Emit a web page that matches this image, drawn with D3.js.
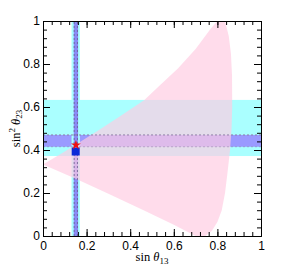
<!DOCTYPE html>
<html><head><meta charset="utf-8">
<script src="https://cdn.jsdelivr.net/npm/d3@7/dist/d3.min.js"></script>
<style>
html,body{margin:0;padding:0;background:#fff;}
svg{display:block;}
.tick text{font-family:"Liberation Sans",Arial,sans-serif;font-size:12px;fill:#000;}
.ttl{font-family:"Liberation Serif","Times New Roman",serif;font-size:12.5px;fill:#000;}
</style></head>
<body>
<script>
// ---- data ----
const majorTicks = [0, 0.2, 0.4, 0.6, 0.8, 1];
const minorTicks = d3.range(0, 1.0001, 0.04);
const tickLabels = ["0", "0.2", "0.4", "0.6", "0.8", "1"];
// allowed region (sin θ13, sin²θ23), boundary traced clockwise
const regionUpper = [[0,0.333],[0.1,0.393],[0.246,0.486],[0.35,0.555],[0.465,0.633],[0.54,0.705],[0.62,0.78],[0.70,0.87],[0.77,0.965],[0.80,1.0],[0.815,1.02]];
const regionRight = [[0.835,1.0],[0.852,0.93],[0.862,0.85],[0.867,0.75],[0.868,0.6],[0.865,0.5],[0.858,0.4],[0.847,0.3],[0.835,0.2],[0.82,0.12],[0.80,0.065],[0.775,0.025],[0.745,0.0]];
const regionLower = [[0.70,0.0],[0.6,0.052],[0.459,0.121],[0.3,0.197],[0.153,0.265],[0,0.333]];
const horizBands = [{lo:0.372, hi:0.633, c:"#aaffff"}, {lo:0.415, hi:0.47, c:"#9a9aff"}];
const vertBands = [{lo:0.131, hi:0.169, c:"#aaffff"}, {lo:0.141, hi:0.161, c:"#8a8af5"}];
const hDashed = [0.47, 0.415];
const vDashed = [0.143, 0.158];
const starPt = [0.151, 0.423];
const squarePt = [0.150, 0.393];

// ---- layout ----
const W = 288, H = 266;
const x = d3.scaleLinear().domain([0,1]).range([43,261]);
const y = d3.scaleLinear().domain([0,1]).range([236,21]);

const svg = d3.select("body").append("svg").attr("width",W).attr("height",H);
svg.append("defs").append("clipPath").attr("id","plot")
  .append("rect").attr("x",x(0)).attr("y",y(1)).attr("width",x(1)-x(0)).attr("height",y(0)-y(1));
const g = svg.append("g").attr("clip-path","url(#plot)");

horizBands.forEach(b => g.append("rect").attr("x",x(0)).attr("width",x(1)-x(0))
  .attr("y",y(b.hi)).attr("height",y(b.lo)-y(b.hi)).attr("fill",b.c));
vertBands.forEach(b => g.append("rect").attr("y",y(1)).attr("height",y(0)-y(1))
  .attr("x",x(b.lo)).attr("width",x(b.hi)-x(b.lo)).attr("fill",b.c));

const region = regionUpper.concat(regionRight, regionLower);
g.append("path").attr("d", d3.line().x(d=>x(d[0])).y(d=>y(d[1]))(region) + "Z")
  .attr("fill","rgb(255,204,226)").attr("fill-opacity",0.68);

hDashed.forEach((v,i) => g.append("line").attr("x1",x(0)).attr("x2",x(1)).attr("y1",y(v)).attr("y2",y(v))
  .attr("stroke","#8a7aa0").attr("stroke-width",1).attr("stroke-dasharray","2,2").attr("opacity", i===0?0.9:0.45));
vDashed.forEach(v => g.append("line").attr("y1",y(0)).attr("y2",y(1)).attr("x1",x(v)).attr("x2",x(v))
  .attr("stroke","#6a6090").attr("stroke-width",1).attr("stroke-dasharray","2,2").attr("opacity",0.8));

g.append("rect").attr("x",x(squarePt[0])-4).attr("y",y(squarePt[1])-4).attr("width",8).attr("height",8).attr("fill","#0a2ad8");
g.append("path").attr("d", d3.symbol(d3.symbolStar, 30)())
  .attr("transform",`translate(${x(starPt[0])},${y(starPt[1])})`).attr("fill","#ee1111");

// ---- axes ----
function axisGroup(axis, tr){ return svg.append("g").attr("transform",tr).call(axis); }
const fmt = (d,i)=>tickLabels[i];
const bottom = axisGroup(d3.axisBottom(x).tickValues(majorTicks).tickFormat(fmt).tickSizeInner(-7).tickSizeOuter(0).tickPadding(5), `translate(0,${y(0)})`);
axisGroup(d3.axisBottom(x).tickValues(minorTicks).tickFormat("").tickSizeInner(-4).tickSizeOuter(0), `translate(0,${y(0)})`);
axisGroup(d3.axisTop(x).tickValues(majorTicks).tickFormat("").tickSizeInner(-7).tickSizeOuter(0), `translate(0,${y(1)})`);
axisGroup(d3.axisTop(x).tickValues(minorTicks).tickFormat("").tickSizeInner(-4).tickSizeOuter(0), `translate(0,${y(1)})`);
axisGroup(d3.axisLeft(y).tickValues(majorTicks).tickFormat(fmt).tickSizeInner(-7).tickSizeOuter(0).tickPadding(3), `translate(${x(0)},0)`);
axisGroup(d3.axisLeft(y).tickValues(minorTicks).tickFormat("").tickSizeInner(-4).tickSizeOuter(0), `translate(${x(0)},0)`);
axisGroup(d3.axisRight(y).tickValues(majorTicks).tickFormat("").tickSizeInner(-7).tickSizeOuter(0), `translate(${x(1)},0)`);
axisGroup(d3.axisRight(y).tickValues(minorTicks).tickFormat("").tickSizeInner(-4).tickSizeOuter(0), `translate(${x(1)},0)`);
svg.selectAll(".domain").attr("stroke","#000");
svg.selectAll(".tick line").attr("stroke","#000");

// ---- titles ----
const xt = svg.append("text").attr("class","ttl").attr("x",(x(0)+x(1))/2).attr("y",261).attr("text-anchor","middle");
xt.append("tspan").text("sin ");
xt.append("tspan").attr("font-style","italic").text("θ");
xt.append("tspan").attr("font-size","9px").attr("dy",2.5).text("13");

const yt = svg.append("text").attr("class","ttl").attr("text-anchor","middle")
  .attr("transform",`translate(19.5,${(y(0)+y(1))/2}) rotate(-90)`);
yt.append("tspan").text("sin");
yt.append("tspan").attr("font-size","9px").attr("dy",-5).text("2");
yt.append("tspan").attr("dy",5).text(" ");
yt.append("tspan").attr("font-style","italic").text("θ");
yt.append("tspan").attr("font-size","9px").attr("dy",2.5).text("23");
</script>
</body></html>
